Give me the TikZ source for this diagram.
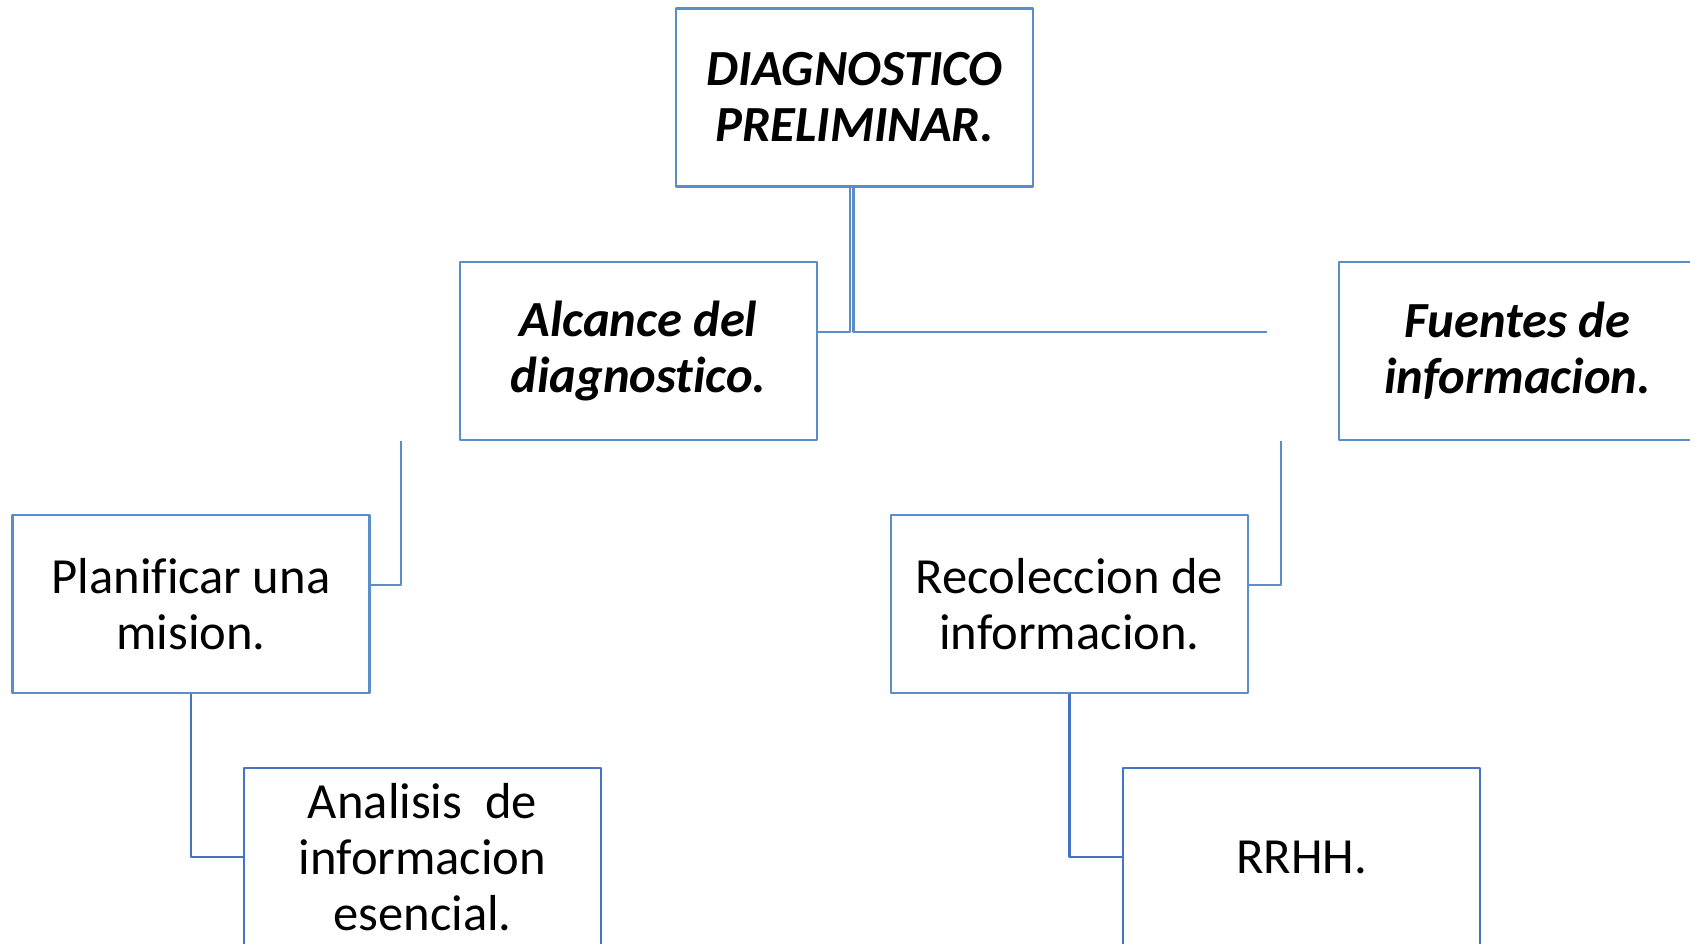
\documentclass[tikz,border=0pt]{standalone}
\usepackage{fontspec}
\setmainfont{Carlito}[Ligatures=CommonOff]
\definecolor{boxblue}{RGB}{91,142,201}
\definecolor{deepblue}{RGB}{68,114,196}
\tikzset{
  caja/.style={draw=boxblue, line width=1.3pt, minimum width=178.5pt, minimum height=89pt,
    inner sep=0pt, align=center, font=\fontsize{25.3}{28}\selectfont},
  titulo/.style={caja, font=\fontsize{25.3}{28}\selectfont\bfseries\itshape},
  hoja/.style={caja, draw=deepblue}
}
\begin{document}
\begin{tikzpicture}[x=0.5pt, y=-0.5pt, line join=round, line width=1.1pt]
\clip (0,0) rectangle (1690,943);
% cajas
\node[titulo] (diag) at (854.5,97.5) {DIAGNOSTICO\\PRELIMINAR.};
\node[titulo] (alc) at (638.5,351) {Alcance del\\diagnostico.};
\node[titulo] (fue) at (1517.5,351) {Fuentes de\\informacion.};
\node[caja] (plan) at (191,604) {Planificar una\\mision.};
\node[caja] (reco) at (1069.5,604) {Recoleccion de\\informacion.};
\node[hoja] (anal) at (422.5,857) {Analisis~ de\\informacion\\esencial.};
\node[hoja] (rrhh) at (1301.5,857) {RRHH.};
% extremos libres
\coordinate (fuein) at ([xshift=-35.5pt,yshift=9.5pt]fue.west);
\coordinate (planin) at ([xshift=-29pt]alc.south west);
\coordinate (recoin) at ([xshift=-28.5pt]fue.south west);
% conectores
\draw[boxblue] ([xshift=-2.4pt]diag.south) |- ([yshift=9.5pt]alc.east);
\draw[boxblue] ([xshift=-0.5pt]diag.south) |- (fuein);
\draw[boxblue] ([yshift=9.5pt]plan.east) -| (planin);
\draw[boxblue] ([yshift=9.5pt]reco.east) -| (recoin);
\draw[deepblue] (plan.south) |- (anal.west);
\draw[deepblue] (reco.south) |- (rrhh.west);
\end{tikzpicture}
\end{document}
